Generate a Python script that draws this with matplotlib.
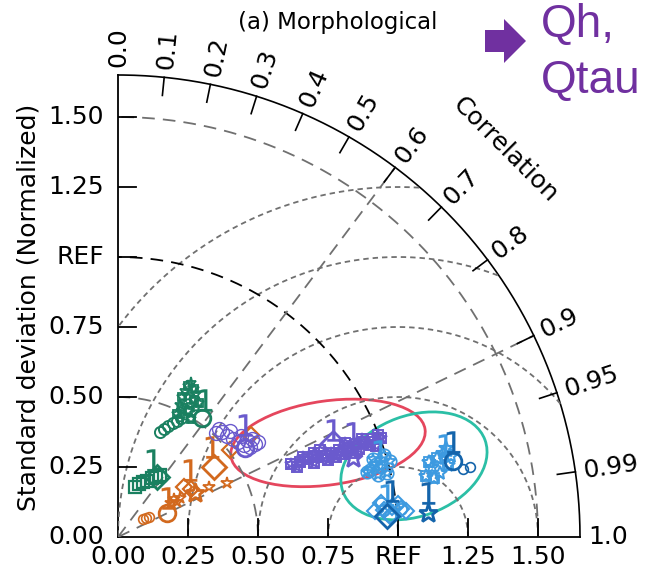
import matplotlib.pyplot as plt
import numpy as np
from matplotlib.patches import Ellipse, Polygon

# ---- data: (normalized std, correlation) ----
std_ticks = [0.25, 0.5, 0.75, 1.0, 1.25, 1.5]
std_labels = ['0.25', '0.50', '0.75', 'REF', '1.25', '1.50']
cor_ticks = [0.0, 0.1, 0.2, 0.3, 0.4, 0.5, 0.6, 0.7, 0.8, 0.9, 0.95, 0.99, 1.0]
cor_lines = [0.6, 0.9]
std_arcs = [0.5, 1.5]
rms_levels = [0.25, 0.5, 0.75, 1.0, 1.25]
max_std = 1.65

green_dense_std = [0.488, 0.519, 0.550, 0.573, 0.595, 0.608, 0.595, 0.582, 0.559,
                   0.537, 0.515, 0.492, 0.494, 0.539, 0.514, 0.559, 0.561, 0.474]
green_dense_cor = [0.431, 0.424, 0.418, 0.419, 0.420, 0.427, 0.454, 0.481, 0.483,
                   0.484, 0.486, 0.487, 0.526, 0.520, 0.447, 0.447, 0.517, 0.464]
green_circ_std = [0.404, 0.419, 0.434, 0.450, 0.465, 0.481]
green_circ_cor = [0.371, 0.394, 0.415, 0.434, 0.452, 0.468]
green_sq_std = [0.190, 0.204, 0.215, 0.226, 0.242, 0.254, 0.266]
green_sq_cor = [0.316, 0.367, 0.419, 0.465, 0.496, 0.532, 0.563]
green_big_std = [0.520, 0.256]
green_big_cor = [0.577, 0.548]
green_big_mk = ['o', 'D']
green_one_std = [0.580, 0.302]
green_one_cor = [0.535, 0.414]

orange_circ_std = [0.111, 0.121, 0.130]
orange_circ_cor = [0.811, 0.827, 0.844]
orange_small_std = [0.225, 0.241, 0.244, 0.261, 0.371, 0.434]
orange_small_cor = [0.846, 0.829, 0.859, 0.844, 0.876, 0.896]
orange_sq_std = [0.296, 0.311, 0.507, 0.598]
orange_sq_cor = [0.794, 0.837, 0.789, 0.794]
orange_big_std = [0.195, 0.317, 0.424]
orange_big_cor = [0.897, 0.869, 0.808]
orange_big_mk = ['o', '*', 'D']
orange_one_std = [0.228, 0.351, 0.465]
orange_one_cor = [0.789, 0.732, 0.723]

purple_circ_std = [0.509, 0.527, 0.531, 0.539, 0.548, 0.558, 0.569, 0.591, 0.605,
                   0.594, 0.569, 0.552, 0.527, 0.575]
purple_circ_cor = [0.687, 0.702, 0.735, 0.761, 0.784, 0.806, 0.827, 0.829, 0.827,
                   0.808, 0.774, 0.725, 0.683, 0.800]
purple_band_std = [0.672, 0.704, 0.735, 0.765, 0.795, 0.817, 0.849, 0.880, 0.912,
                   0.943, 0.975, 1.005, 0.762, 0.799, 0.853, 0.916, 0.959, 0.719,
                   0.687, 0.749, 0.830, 0.892, 0.976, 0.784, 0.877, 0.938, 0.999]
purple_band_cor = [0.922, 0.924, 0.925, 0.928, 0.931, 0.930, 0.931, 0.932, 0.932,
                   0.933, 0.933, 0.936, 0.919, 0.939, 0.938, 0.939, 0.939, 0.918,
                   0.932, 0.935, 0.939, 0.942, 0.943, 0.919, 0.924, 0.928, 0.931]
purple_big_std = [0.555, 0.838, 0.885]
purple_big_cor = [0.820, 0.916, 0.948]
purple_big_mk = ['o', 'D', '*']
purple_one_std = [0.606, 0.858, 0.917]
purple_one_cor = [0.751, 0.895, 0.915]

lblue_a_std = [0.931, 0.956, 0.973, 0.987, 0.956, 1.007, 0.952, 0.993, 0.919]
lblue_a_cor = [0.966, 0.962, 0.966, 0.973, 0.973, 0.963, 0.956, 0.956, 0.968]
lblue_b_std = [1.122, 1.148, 1.174, 1.198, 1.208, 1.173, 1.149, 1.213, 1.142, 1.225]
lblue_b_cor = [0.981, 0.976, 0.971, 0.968, 0.977, 0.981, 0.983, 0.965, 0.972, 0.972]
lblue_c_std = [0.924, 0.955, 0.986, 1.015, 1.034, 0.973, 1.007, 0.948]
lblue_c_cor = [0.995, 0.995, 0.994, 0.995, 0.996, 0.997, 0.993, 0.992]
lblue_one_std = [0.985, 1.213, 0.973]
lblue_one_cor = [0.950, 0.963, 0.988]

dblue_big_std = [1.227, 0.964, 1.111]
dblue_big_cor = [0.975, 0.997, 0.997]
dblue_big_mk = ['o', 'D', '*']
dblue_circ_std = [1.256, 1.281]
dblue_circ_cor = [0.981, 0.981]
dblue_one_std = [1.243, 0.993, 1.118]
dblue_one_cor = [0.962, 0.986, 0.990]

GREEN = '#1a8060'
ORANGE = '#d2691e'
PURPLE = '#6a5acd'
LBLUE = '#3d9ae0'
DBLUE = '#1464ab'
GRAY = '#707070'
FS = 18


def to_xy(s, c):
    s = np.asarray(s, float)
    c = np.asarray(c, float)
    return s * c, s * np.sqrt(1 - c ** 2)


fig = plt.figure(figsize=(6.49, 5.76), dpi=100)
ax = fig.add_axes([118 / 649, 39 / 576, 462 / 649, 462 / 576])
ax.set_xlim(0, max_std)
ax.set_ylim(0, max_std)
ax.axis('off')

th = np.linspace(0, np.pi / 2, 400)
# frame
ax.plot([0, 0], [0, max_std], color='k', lw=1.3, clip_on=False)
ax.plot([0, max_std], [0, 0], color='k', lw=1.3, clip_on=False)
ax.plot(max_std * np.cos(th), max_std * np.sin(th), color='k', lw=1.2, clip_on=False)

# rms circles around REF
phi = np.linspace(0, np.pi, 600)
for r in rms_levels:
    x = 1 + r * np.cos(phi)
    y = r * np.sin(phi)
    m = (x >= 0) & (np.hypot(x, y) <= max_std)
    ax.plot(np.where(m, x, np.nan), np.where(m, y, np.nan), color=GRAY,
            lw=1.3, ls=(0, (3, 2.2)))

# std arcs and correlation lines
for s in std_arcs:
    ax.plot(s * np.cos(th), s * np.sin(th), color=GRAY, lw=1.3, ls=(0, (7, 4.5)))
ax.plot(np.cos(th), np.sin(th), color='k', lw=1.3, ls=(0, (7, 4.5)))
for c in cor_lines:
    a = np.arccos(c)
    ax.plot([0, max_std * np.cos(a)], [0, max_std * np.sin(a)], color=GRAY,
            lw=1.3, ls=(0, (7, 4.5)))

# ticks
tl = 0.065
for v, lab in zip([0.0] + std_ticks, ['0.00'] + std_labels):
    if v > 0:
        ax.plot([v, v], [0, tl], color='k', lw=1.3)
        ax.plot([0, tl], [v, v], color='k', lw=1.3)
    ax.text(v, -0.03, lab, ha='center', va='top', fontsize=FS, clip_on=False)
    ax.text(-0.05, v, lab, ha='right', va='center', fontsize=FS, clip_on=False)

for c in cor_ticks:
    a = np.arccos(c)
    if 0 < c < 1:
        ax.plot([(max_std - tl) * np.cos(a), max_std * np.cos(a)],
                [(max_std - tl) * np.sin(a), max_std * np.sin(a)], color='k', lw=1.2)
    rr = max_std + 0.03
    ax.text(rr * np.cos(a), rr * np.sin(a), f'{c:g}' if c not in (0.0, 1.0) else f'{c:.1f}',
            rotation=np.degrees(a), rotation_mode='anchor', ha='left', va='center',
            fontsize=FS, clip_on=False)

ax.text(1.955 * np.cos(np.pi / 4), 1.955 * np.sin(np.pi / 4), 'Correlation',
        rotation=-45, ha='center', va='center', fontsize=FS, clip_on=False)
ax.text(-0.32, 0.82, 'Standard deviation (Normalized)', rotation=90,
        ha='center', va='center', fontsize=FS, clip_on=False)

# ellipses
ax.add_patch(Ellipse((0.75, 0.336), 0.70, 0.30, angle=8, fill=False,
                     edgecolor='#e5465d', lw=2))
ax.add_patch(Ellipse((1.057, 0.254), 0.54, 0.36, angle=20, fill=False,
                     edgecolor='#2bbfa6', lw=2))


def pts(s, c, col, mk, ms, lw=1.0):
    x, y = to_xy(s, c)
    ax.plot(x, y, ls='none', marker=mk, ms=ms, mfc='none', mec=col, mew=lw)


def big(s, c, mks, col):
    for si, ci, mk in zip(s, c, mks):
        pts([si], [ci], col, mk, 14 if mk == '*' else 12, 2.0)


def ones(s, c, col):
    x, y = to_xy(s, c)
    ax.plot(x, y, ls='none', marker='$1$', ms=16, color=col, mew=0.2)


# green
pts(green_dense_std, green_dense_cor, GREEN, '*', 8, 1.3)
pts(green_dense_std[::2], green_dense_cor[::2], GREEN, 's', 6, 1.3)
pts(green_circ_std, green_circ_cor, GREEN, 'o', 8, 1.4)
pts(green_sq_std, green_sq_cor, GREEN, 's', 9, 1.6)
big(green_big_std, green_big_cor, green_big_mk, GREEN)
ones(green_one_std, green_one_cor, GREEN)

# orange
pts(orange_circ_std, orange_circ_cor, ORANGE, 'o', 7, 1.2)
pts(orange_small_std, orange_small_cor, ORANGE, '*', 9, 1.3)
pts(orange_sq_std, orange_sq_cor, ORANGE, 'D', 8, 1.6)
big(orange_big_std, orange_big_cor, orange_big_mk, ORANGE)
ones(orange_one_std, orange_one_cor, ORANGE)

# purple
pts(purple_circ_std, purple_circ_cor, PURPLE, 'o', 10, 1.0)
pts(purple_band_std, purple_band_cor, PURPLE, 's', 7, 1.4)
pts(purple_band_std, purple_band_cor, PURPLE, '*', 9, 1.4)
big(purple_big_std, purple_big_cor, purple_big_mk, PURPLE)
ones(purple_one_std, purple_one_cor, PURPLE)

# light blue
pts(lblue_a_std, lblue_a_cor, LBLUE, 'o', 9, 1.2)
pts(lblue_a_std, lblue_a_cor, LBLUE, '*', 9, 1.3)
pts(lblue_b_std, lblue_b_cor, LBLUE, '*', 10, 1.5)
pts(lblue_b_std[::2], lblue_b_cor[::2], LBLUE, 's', 7, 1.3)
pts(lblue_c_std, lblue_c_cor, LBLUE, 'D', 8, 1.5)
pts(lblue_c_std[1::2], lblue_c_cor[1::2], LBLUE, 'o', 8, 1.3)
ones(lblue_one_std, lblue_one_cor, LBLUE)

# dark blue
big(dblue_big_std, dblue_big_cor, dblue_big_mk, DBLUE)
pts(dblue_circ_std, dblue_circ_cor, DBLUE, 'o', 7, 1.2)
ones(dblue_one_std, dblue_one_cor, DBLUE)

# title and annotation
fig.text(338 / 649, 1 - 22 / 576, '(a) Morphological', ha='center', va='center',
         fontsize=16.5)
arrow_px = [(485, 30), (504, 30), (504, 19), (526, 41), (504, 63), (504, 52), (485, 52)]
fig.add_artist(Polygon([(x / 649, 1 - y / 576) for x, y in arrow_px], closed=True,
                       transform=fig.transFigure, facecolor='#7030a0', edgecolor='none'))
fig.text(541 / 649, 1 - 3 / 576, 'Qh,\nQtau', ha='left', va='top', fontsize=33,
         family='Liberation Sans', color='#7030a0', linespacing=1.35)

fig.savefig('out.png', dpi=100)
